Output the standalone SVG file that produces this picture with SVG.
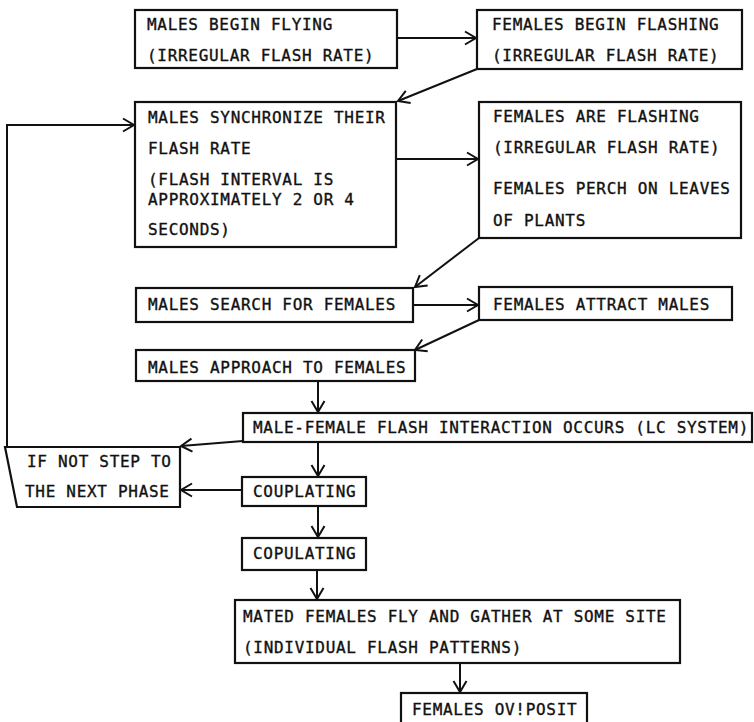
<svg xmlns="http://www.w3.org/2000/svg" width="754" height="722" viewBox="0 0 754 722">
<style>
.b{fill:#fff;stroke:#111;stroke-width:2.2}
.t{font-family:"DejaVu Sans Mono","Liberation Mono",monospace;font-size:16px;letter-spacing:0.7px;fill:#111;stroke:#111;stroke-width:0.35}
.c{fill:none;stroke:#111;stroke-width:2}
</style>
<defs>
<marker id="ah" viewBox="-12 -8 14 16" refX="0" refY="0" markerWidth="14" markerHeight="16" markerUnits="userSpaceOnUse" orient="auto">
<path d="M-11,-6.5 L0,0 L-11,6.5" fill="none" stroke="#111" stroke-width="2"/>
</marker>
</defs>
<rect width="754" height="722" fill="#fff"/>
<g id="connectors">
<line class="c" x1="397" y1="38" x2="476" y2="38" marker-end="url(#ah)"/>
<line class="c" x1="477" y1="69" x2="398" y2="101" marker-end="url(#ah)"/>
<line class="c" x1="396" y1="159" x2="478" y2="159" marker-end="url(#ah)"/>
<line class="c" x1="479" y1="238" x2="415" y2="287" marker-end="url(#ah)"/>
<line class="c" x1="413" y1="305" x2="478" y2="305" marker-end="url(#ah)"/>
<line class="c" x1="479" y1="320" x2="415" y2="350" marker-end="url(#ah)"/>
<line class="c" x1="318" y1="381" x2="318" y2="412" marker-end="url(#ah)"/>
<line class="c" x1="243" y1="441" x2="181" y2="446" marker-end="url(#ah)"/>
<line class="c" x1="318" y1="442" x2="318" y2="476" marker-end="url(#ah)"/>
<line class="c" x1="242" y1="490" x2="181" y2="490" marker-end="url(#ah)"/>
<line class="c" x1="318" y1="506" x2="318" y2="537" marker-end="url(#ah)"/>
<line class="c" x1="317" y1="570" x2="317" y2="599" marker-end="url(#ah)"/>
<line class="c" x1="460" y1="663" x2="460" y2="692" marker-end="url(#ah)"/>
<polyline class="c" points="7,447 7,125 134,125" marker-end="url(#ah)"/>
</g>
<g id="n1"><rect class="b" x="135" y="10" width="262" height="58"/>
<text class="t" x="147" y="30">MALES BEGIN FLYING</text>
<text class="t" x="147" y="61">(IRREGULAR FLASH RATE)</text></g>
<g id="n2"><rect class="b" x="477" y="10" width="265" height="59"/>
<text class="t" x="492" y="30">FEMALES BEGIN FLASHING</text>
<text class="t" x="492" y="61">(IRREGULAR FLASH RATE)</text></g>
<g id="n3"><rect class="b" x="135" y="102" width="261" height="145"/>
<text class="t" x="148" y="123">MALES SYNCHRONIZE THEIR</text>
<text class="t" x="148" y="154">FLASH RATE</text>
<text class="t" x="148" y="185">(FLASH INTERVAL IS</text>
<text class="t" x="148" y="205">APPROXIMATELY 2 OR 4</text>
<text class="t" x="148" y="235">SECONDS)</text></g>
<g id="n4"><rect class="b" x="479" y="102" width="262" height="136"/>
<text class="t" x="493" y="122">FEMALES ARE FLASHING</text>
<text class="t" x="493" y="153">(IRREGULAR FLASH RATE)</text>
<text class="t" x="493" y="194">FEMALES PERCH ON LEAVES</text>
<text class="t" x="493" y="226">OF PLANTS</text></g>
<g id="n5"><rect class="b" x="136" y="288" width="277" height="34"/>
<text class="t" x="148" y="310">MALES SEARCH FOR FEMALES</text></g>
<g id="n6"><rect class="b" x="479" y="287" width="253" height="33"/>
<text class="t" x="493" y="310">FEMALES ATTRACT MALES</text></g>
<g id="n7"><rect class="b" x="136" y="350" width="279" height="31"/>
<text class="t" x="148" y="373">MALES APPROACH TO FEMALES</text></g>
<g id="n8"><rect class="b" x="243" y="413" width="509" height="29"/>
<text class="t" x="253" y="433">MALE-FEMALE FLASH INTERACTION OCCURS (LC SYSTEM)</text></g>
<g id="n9"><polygon class="b" points="5,447 180,447 180,507 17,507"/>
<text class="t" x="27" y="467">IF NOT STEP TO</text>
<text class="t" x="25" y="497">THE NEXT PHASE</text></g>
<g id="n10"><rect class="b" x="242" y="477" width="124" height="29"/>
<text class="t" x="253" y="497">COUPLATING</text></g>
<g id="n11"><rect class="b" x="242" y="538" width="124" height="32"/>
<text class="t" x="253" y="559">COPULATING</text></g>
<g id="n12"><rect class="b" x="235" y="600" width="445" height="63"/>
<text class="t" x="243" y="622">MATED FEMALES FLY AND GATHER AT SOME SITE</text>
<text class="t" x="243" y="653">(INDIVIDUAL FLASH PATTERNS)</text></g>
<g id="n13"><rect class="b" x="401" y="693" width="186" height="40"/>
<text class="t" x="412" y="715">FEMALES OV!POSIT</text></g>
</svg>
